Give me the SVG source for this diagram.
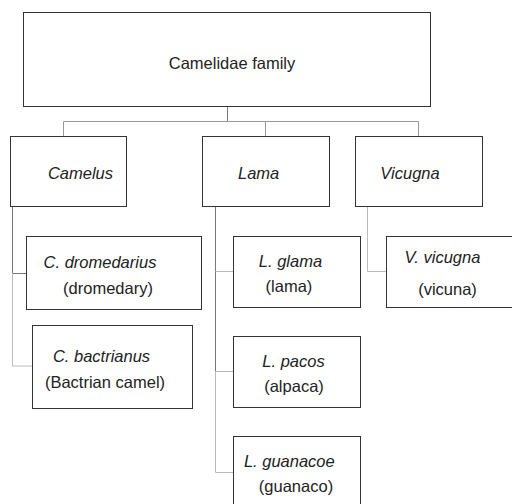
<svg xmlns="http://www.w3.org/2000/svg" width="512" height="504" viewBox="0 0 512 504">
<style>
.box{fill:#fff;stroke:#333;stroke-width:1}
.t{font-family:"Liberation Sans",Arial,sans-serif;font-size:16.5px;fill:#222;text-anchor:middle}
.i{font-style:italic}
.c1{stroke:#777;stroke-width:1;fill:none}
.c2{stroke:#999;stroke-width:1;fill:none}
.c3{stroke:#bbb;stroke-width:1;fill:none}
</style>
<rect width="512" height="504" fill="#fff"/>
<g id="connectors">
<path class="c1" d="M227.5 107V122"/>
<path class="c2" d="M63.5 136V121.5H418.5V136M265.5 121.5V136"/>
<path class="c1" d="M12.5 207V273.5H26"/>
<path class="c3" d="M12.5 273.5V366H32"/>
<path class="c1" d="M215.5 207V371.5"/>
<path class="c3" d="M215.5 271.5H234M215.5 371.5H234M215.5 371.5V472.5H234"/>
<path class="c3" d="M367.5 207V271.5H387"/>
</g>
<g id="family">
<rect class="box" x="23.5" y="12.5" width="407" height="94"/>
<text class="t" x="232" y="69">Camelidae family</text>
</g>
<g id="camelus">
<rect class="box" x="10.5" y="136.5" width="116" height="70"/>
<text class="t i" x="80.5" y="179">Camelus</text>
</g>
<g id="lama">
<rect class="box" x="202.5" y="136.5" width="127" height="70"/>
<text class="t i" x="258.6" y="179">Lama</text>
</g>
<g id="vicugna">
<rect class="box" x="355.5" y="136.5" width="127" height="70"/>
<text class="t i" x="410" y="179">Vicugna</text>
</g>
<g id="dromedarius">
<rect class="box" x="26.5" y="236.5" width="175" height="73"/>
<text class="t i" x="100" y="268">C. dromedarius</text>
<text class="t" x="108" y="294">(dromedary)</text>
</g>
<g id="bactrianus">
<rect class="box" x="32.5" y="325.5" width="160" height="83"/>
<text class="t i" x="101.5" y="362">C. bactrianus</text>
<text class="t" x="105" y="388">(Bactrian camel)</text>
</g>
<g id="glama">
<rect class="box" x="233.5" y="236.5" width="127" height="71"/>
<text class="t i" x="290.5" y="267">L. glama</text>
<text class="t" x="289" y="292">(lama)</text>
</g>
<g id="pacos">
<rect class="box" x="233.5" y="336.5" width="127" height="71"/>
<text class="t i" x="293.5" y="367">L. pacos</text>
<text class="t" x="294" y="392">(alpaca)</text>
</g>
<g id="guanacoe">
<rect class="box" x="233.5" y="436.5" width="127" height="80"/>
<text class="t i" x="289.3" y="467">L. guanacoe</text>
<text class="t" x="296" y="492">(guanaco)</text>
</g>
<g id="vvicugna">
<rect class="box" x="386.5" y="236.5" width="140" height="71"/>
<text class="t i" x="442.5" y="263">V. vicugna</text>
<text class="t" x="447.5" y="295">(vicuna)</text>
</g>
</svg>
